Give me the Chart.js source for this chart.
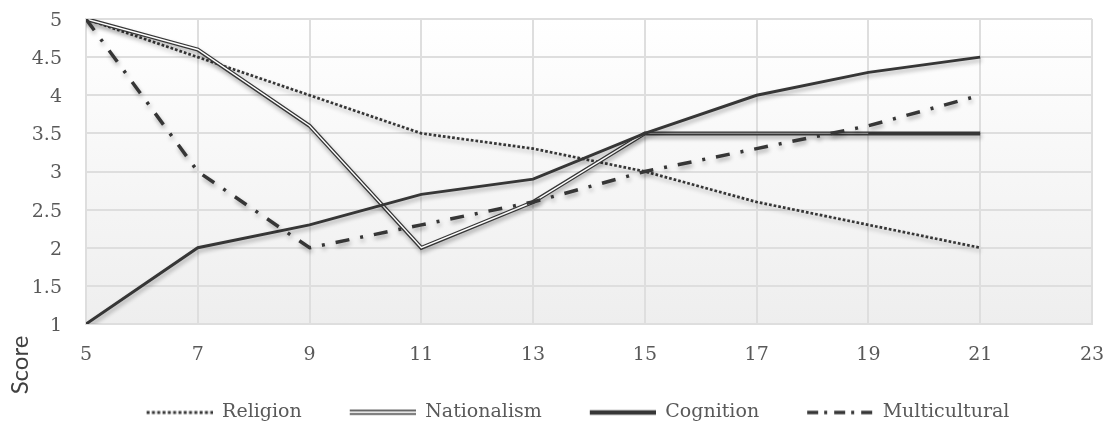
<!DOCTYPE html>
<html>
<head>
<meta charset="utf-8">
<script src="https://cdn.jsdelivr.net/npm/chart.js@4.4.0/dist/chart.umd.min.js"></script>
<style>
  html, body { margin: 0; padding: 0; background: #fff; }
</style>
</head>
<body>
<canvas id="scoreChart" width="1108" height="425"></canvas>
<script>
// data
var ages = [5, 7, 9, 11, 13, 15, 17, 19, 21];
var religion = [5, 4.5, 4, 3.5, 3.3, 3, 2.6, 2.3, 2];
var nationalism = [5, 4.6, 3.6, 2, 2.6, 3.5, 3.5, 3.5, 3.5];
var cognition = [1, 2, 2.3, 2.7, 2.9, 3.5, 4, 4.3, 4.5];
var multicultural = [5, 3, 2, 2.3, 2.6, 3, 3.3, 3.6, 4];
var seriesNames = ['Religion', 'Nationalism', 'Cognition', 'Multicultural'];
var xTicks = [5, 7, 9, 11, 13, 15, 17, 19, 21, 23];
var yTicks = [1, 1.5, 2, 2.5, 3, 3.5, 4, 4.5, 5];

var lineColor = '#363636';
var textColor = '#595959';
var gridColor = '#dedede';

function toPoints(values) {
  return ages.map(function (a, i) {
    return { x: a, y: values[i] };
  });
}

// legend samples (transparent lead-in gives the gap between items)
var lead = 38;
var sampleW = 66;
function makeSample(draw) {
  var c = document.createElement('canvas');
  c.width = lead + sampleW;
  c.height = 10;
  var g = c.getContext('2d');
  g.strokeStyle = lineColor;
  g.translate(lead, 0);
  draw(g);
  return c;
}
function hline(g, y) {
  g.beginPath(); g.moveTo(0, y); g.lineTo(sampleW, y); g.stroke();
}
var samples = [
  makeSample(function (g) {
    g.lineWidth = 3;
    g.setLineDash([3, 2.3]);
    hline(g, 5);
  }),
  makeSample(function (g) {
    g.lineWidth = 1.5;
    hline(g, 3);
    hline(g, 6.5);
  }),
  makeSample(function (g) {
    g.lineWidth = 4.5;
    hline(g, 5);
  }),
  makeSample(function (g) {
    g.lineWidth = 3.5;
    g.setLineDash([11, 6, 3, 7]);
    hline(g, 5);
  })
];

// plot area gradient + axis title
var bgPlugin = {
  id: 'plotBg',
  beforeDraw: function (chart) {
    var a = chart.chartArea;
    var c = chart.ctx;
    var grad = c.createLinearGradient(0, a.top, 0, a.bottom);
    grad.addColorStop(0, '#ffffff');
    grad.addColorStop(1, '#eeeeee');
    c.save();
    c.fillStyle = grad;
    c.fillRect(a.left, a.top, a.right - a.left, a.bottom - a.top);
    c.restore();
  },
  afterDraw: function (chart) {
    var c = chart.ctx;
    c.save();
    c.translate(20, 365);
    c.rotate(-Math.PI / 2);
    c.font = '24px Lato';
    c.fillStyle = '#404040';
    c.textAlign = 'center';
    c.textBaseline = 'middle';
    c.fillText('Score', 0, 0);
    c.restore();
  }
};

// soft drop shadow under the lines
var shadowPlugin = {
  id: 'lineShadow',
  beforeDatasetDraw: function (chart, args) {
    if (chart.data.datasets[args.index].noShadow) return;
    var c = chart.ctx;
    c.save();
    c.shadowColor = 'rgba(0,0,0,0.3)';
    c.shadowBlur = 4;
    c.shadowOffsetX = 1;
    c.shadowOffsetY = 3;
  },
  afterDatasetDraw: function (chart, args) {
    if (chart.data.datasets[args.index].noShadow) return;
    chart.ctx.restore();
  }
};

var ctx = document.getElementById('scoreChart').getContext('2d');
var scoreChart = new Chart(ctx, {
  type: 'line',
  data: {
    datasets: [
      {
        label: seriesNames[0],
        data: toPoints(religion),
        borderColor: lineColor,
        borderWidth: 2.7,
        borderDash: [2.7, 2],
        order: 4
      },
      {
        label: seriesNames[1],
        data: toPoints(nationalism),
        borderColor: lineColor,
        borderWidth: 4,
        order: 3
      },
      {
        label: 'inner',
        data: toPoints(nationalism),
        borderColor: '#ffffff',
        borderWidth: 1.4,
        noShadow: true,
        order: 2,
        segment: {
          borderColor: function (s) {
            if (s.p0DataIndex === 5 || s.p0DataIndex === 6) return '#8a8a8a';
            if (s.p0DataIndex === 7) return lineColor;
            return '#ffffff';
          }
        }
      },
      {
        label: seriesNames[2],
        data: toPoints(cognition),
        borderColor: lineColor,
        borderWidth: 3,
        order: 1
      },
      {
        label: seriesNames[3],
        data: toPoints(multicultural),
        borderColor: lineColor,
        borderWidth: 3.5,
        borderDash: [14, 11, 3, 11],
        order: 0
      }
    ]
  },
  options: {
    responsive: false,
    animation: false,
    elements: {
      point: { radius: 0, hoverRadius: 0 },
      line: { tension: 0, fill: false, borderCapStyle: 'butt', borderJoinStyle: 'miter' }
    },
    layout: {
      padding: { top: 19, right: -10, bottom: -7, left: 0 }
    },
    plugins: {
      tooltip: { enabled: false },
      legend: {
        position: 'bottom',
        onClick: function () {},
        labels: {
          usePointStyle: true,
          pointStyleWidth: lead + sampleW,
          padding: 10,
          color: textColor,
          font: { family: 'DejaVu Serif', size: 19 },
          generateLabels: function () {
            return seriesNames.map(function (name, i) {
              return {
                text: name,
                pointStyle: samples[i],
                fontColor: textColor,
                fillStyle: 'transparent',
                strokeStyle: 'transparent',
                lineWidth: 0,
                hidden: false,
                datasetIndex: i
              };
            });
          }
        }
      }
    },
    scales: {
      x: {
        type: 'linear',
        min: xTicks[0],
        max: xTicks[xTicks.length - 1],
        afterBuildTicks: function (s) {
          s.ticks = xTicks.map(function (v) { return { value: v }; });
        },
        afterFit: function (s) {
          s.height = 69;
          s.paddingLeft = 0;
          s.paddingRight = 16;
        },
        grid: { color: gridColor, lineWidth: 2, drawTicks: false },
        border: { color: gridColor, width: 2 },
        ticks: {
          padding: 20,
          autoSkip: false,
          maxRotation: 0,
          color: textColor,
          font: { family: 'DejaVu Serif', size: 19 },
          callback: function (v) { return String(v); }
        }
      },
      y: {
        type: 'linear',
        min: yTicks[0],
        max: yTicks[yTicks.length - 1],
        afterBuildTicks: function (s) {
          s.ticks = yTicks.map(function (v) { return { value: v }; });
        },
        afterFit: function (s) {
          s.width = 86;
          s.paddingTop = 0;
          s.paddingBottom = 0;
        },
        grid: { color: gridColor, lineWidth: 2, drawTicks: false },
        border: { color: gridColor, width: 2 },
        ticks: {
          padding: 24,
          labelOffset: 2,
          autoSkip: false,
          color: textColor,
          font: { family: 'DejaVu Serif', size: 19 },
          callback: function (v) { return String(v); }
        }
      }
    }
  },
  plugins: [bgPlugin, shadowPlugin]
});
</script>
</body>
</html>
